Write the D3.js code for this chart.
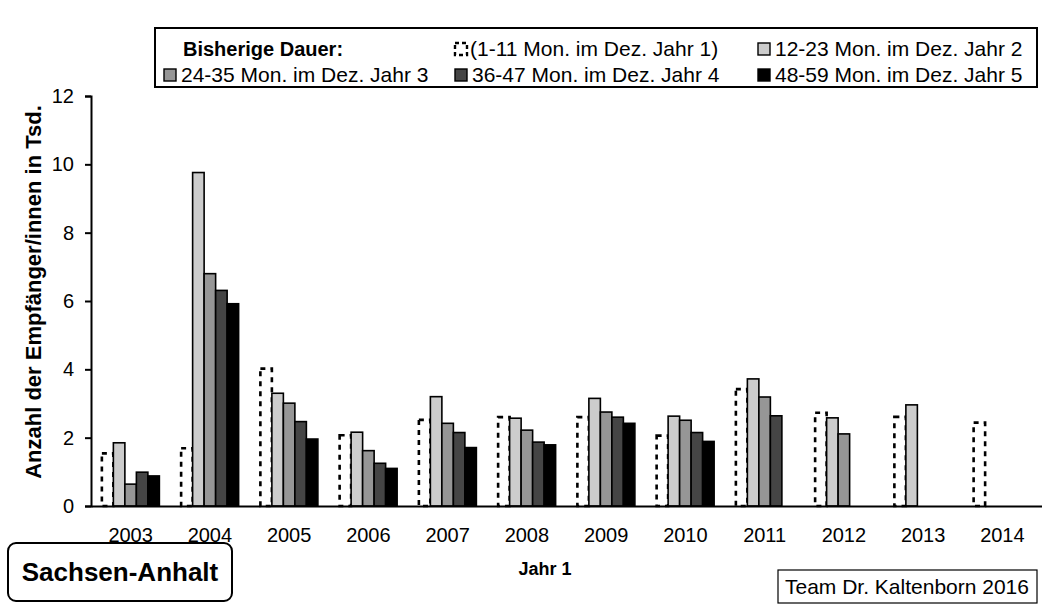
<!DOCTYPE html>
<html><head><meta charset="utf-8">
<script src="https://cdn.jsdelivr.net/npm/d3@7"></script>
<style>body{margin:0;background:#fff}svg{display:block;font-family:"Liberation Sans",Arial,sans-serif}</style>
</head><body><svg id="c" width="1042" height="607"></svg>
<script>
const years = ["2003","2004","2005","2006","2007","2008","2009","2010","2011","2012","2013","2014"];
const legendTitle = "Bisherige Dauer:";
const seriesNames = ["(1-11 Mon. im Dez. Jahr 1)","12-23 Mon. im Dez. Jahr 2","24-35 Mon. im Dez. Jahr 3","36-47 Mon. im Dez. Jahr 4","48-59 Mon. im Dez. Jahr 5"];
const s1 = [1.54,1.69,4.02,2.07,2.52,2.60,2.60,2.06,3.42,2.73,2.61,2.44];
const s2 = [1.85,9.76,3.30,2.16,3.20,2.57,3.15,2.63,3.72,2.58,2.96,null];
const s3 = [0.64,6.80,3.01,1.62,2.42,2.22,2.75,2.51,3.19,2.11,null,null];
const s4 = [0.99,6.31,2.47,1.25,2.15,1.87,2.60,2.15,2.64,null,null,null];
const s5 = [0.88,5.92,1.96,1.10,1.71,1.79,2.42,1.89,null,null,null,null];
const yTicks = [0,2,4,6,8,10,12];
const series = [s1,s2,s3,s4,s5];
const fills = ["#ffffff","#cccccc","#969696","#454545","#000000"];

const svg = d3.select("#c");
const x = d3.scaleBand().domain(years).range([91,1042]).paddingInner(0.2744).paddingOuter(0.1372);
const xs = d3.scaleBand().domain(d3.range(5)).range([0,x.bandwidth()]);
const y = d3.scaleLinear().domain([0,12]).range([506,96]);

// bars
series.forEach((vals,si)=>{
  const g = svg.append("g");
  g.selectAll("rect").data(years.map((yr,i)=>({yr,v:vals[i]})).filter(d=>d.v!=null))
   .join("rect")
   .attr("x",d=>x(d.yr)+xs(si))
   .attr("width",xs.bandwidth())
   .attr("y",d=>y(d.v))
   .attr("height",d=>y(0)-y(d.v))
   .attr("fill",si===0?"none":fills[si])
   .attr("stroke","#000")
   .attr("stroke-width",si===0?2.6:1.6)
   .attr("stroke-dasharray",si===0?"5,5":null);
});

// y axis
const ya = svg.append("g").attr("transform","translate(91,0)")
  .call(d3.axisLeft(y).tickValues(yTicks).tickSize(6).tickPadding(11).tickFormat(d3.format("d")));
ya.select(".domain").attr("stroke","#000").attr("stroke-width",2);
ya.selectAll(".tick line").attr("stroke","#000").attr("stroke-width",2);
ya.selectAll("text").attr("font-size",20).attr("fill","#000").style("font-family","Liberation Sans, Arial, sans-serif");

// x axis
const xa = svg.append("g").attr("transform","translate(0,506)")
  .call(d3.axisBottom(x).tickSize(0).tickPadding(22).tickSizeOuter(0));
xa.select(".domain").attr("stroke","#000").attr("stroke-width",2);
xa.selectAll("text").attr("font-size",20).attr("fill","#000").style("font-family","Liberation Sans, Arial, sans-serif");

// axis titles
svg.append("text").attr("transform","translate(41,292) rotate(-90)").attr("text-anchor","middle")
  .attr("font-size",22).attr("font-weight","bold").text("Anzahl der Empfänger/innen in Tsd.");
svg.append("text").attr("x",545).attr("y",575).attr("text-anchor","middle")
  .attr("font-size",18).attr("font-weight","bold").text("Jahr 1");

// legend
const lg = svg.append("g");
lg.append("rect").attr("x",155).attr("y",28).attr("width",882).attr("height",59).attr("fill","#fff").attr("stroke","#000").attr("stroke-width",2);
lg.append("text").attr("x",183).attr("y",56).attr("font-size",20).attr("font-weight","bold").text(legendTitle);
const legPos = [[455,56],[758,56],[164,82],[455,82],[758,82]];
seriesNames.forEach((n,i)=>{
  const [lx,ly] = legPos[i];
  lg.append("rect").attr("x",lx).attr("y",ly-13).attr("width",12).attr("height",12)
    .attr("fill",i===0?"none":fills[i]).attr("stroke","#000")
    .attr("stroke-width",i===0?2.4:1.4).attr("stroke-dasharray",i===0?"4,3":null);
  lg.append("text").attr("x",lx+(i===0?15:17)).attr("y",ly).attr("font-size",21).text(n);
});

// region box
svg.append("rect").attr("x",8).attr("y",543).attr("width",224).attr("height",58).attr("rx",8)
  .attr("fill","#fff").attr("stroke","#000").attr("stroke-width",2);
svg.append("text").attr("x",120).attr("y",581).attr("text-anchor","middle").attr("font-size",26).attr("font-weight","bold").text("Sachsen-Anhalt");

// credit box
svg.append("rect").attr("x",778).attr("y",570).attr("width",259).attr("height",33).attr("fill","#fff").attr("stroke","#000").attr("stroke-width",1.2);
svg.append("text").attr("x",907).attr("y",594).attr("text-anchor","middle").attr("font-size",21).text("Team Dr. Kaltenborn 2016");
</script></body></html>
